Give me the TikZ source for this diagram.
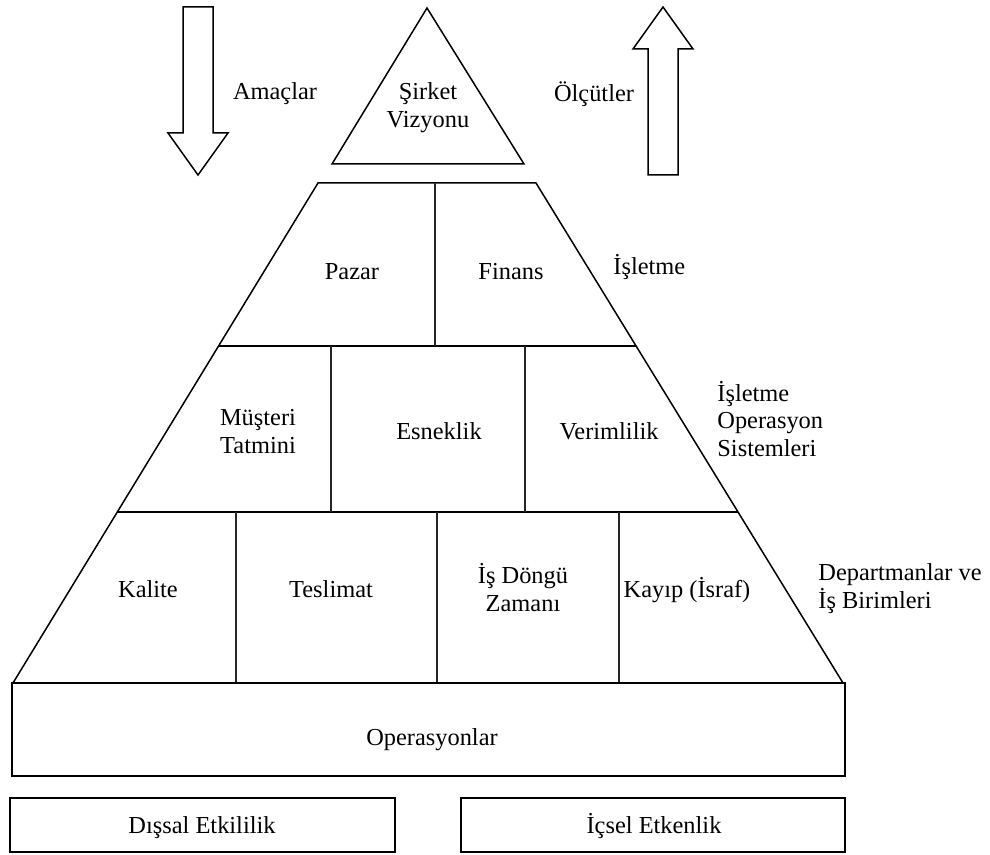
\documentclass[tikz,border=0pt]{standalone}
\usepackage{fontspec}
\setmainfont{Liberation Serif}
\newfontfamily\labelfont{Liberation Serif}
\usetikzlibrary{calc}
\begin{document}
\begin{tikzpicture}[x=0.5pt,y=-0.5pt,
  outline/.style={draw=black,line width=0.75pt,line join=miter},
  divider/.style={draw=black!85,line width=0.55pt},
  boxline/.style={draw=black,line width=1pt},
  lbl/.style={font=\labelfont\fontsize{12.2}{14}\selectfont,inner sep=0pt,anchor=base,align=center},
  side/.style={lbl,align=left,anchor=base west}]
\useasboundingbox (0,0) rectangle (990,855);

% goals arrow (down) and measures arrow (up)
\draw[outline] (183,7) -- (213,7) -- (213,133) -- (228,133) -- (198,175)
  -- (168,133) -- (183,133) -- cycle;
\draw[outline] (663,7) -- (693,49) -- (678,49) -- (678,175) -- (648,175)
  -- (648,49) -- (633,49) -- cycle;

% vision triangle
\draw[outline] (427,8) -- (524,164) -- (332,164) -- cycle;

% pyramid outline
\coordinate (tl) at (318,183);
\coordinate (tr) at (536,183);
\coordinate (bl) at (13,683);
\coordinate (br) at (843,683);
\draw[outline] (tl) -- (tr) -- (br) -- (bl) -- cycle;

% level boundaries
\coordinate (l1) at ($(tl)!0.326!(bl)$);
\coordinate (r1) at ($(tr)!0.326!(br)$);
\coordinate (l2) at ($(tl)!0.658!(bl)$);
\coordinate (r2) at ($(tr)!0.658!(br)$);
\draw[outline] (l1) -- (r1);
\draw[outline] (l2) -- (r2);

% cell dividers
\draw[divider] (435,183) -- (435,346);
\draw[divider] (331,346) -- (331,512);
\draw[divider] (525,346) -- (525,512);
\draw[divider] (236,512) -- (236,683);
\draw[divider] (437,512) -- (437,683);
\draw[divider] (619,512) -- (619,683);

% operations base and effectiveness boxes
\draw[boxline] (12,683) rectangle (845,776);
\draw[boxline] (10,798) rectangle (395,852);
\draw[boxline] (461,798) rectangle (845,852);

% labels (multi-line labels sit on the baseline of their last line)
\node[lbl] (amac) at (275,100) {Amaçlar};
\node[lbl] (olcut) at (594,102) {Ölçütler};
\node[lbl] (vizyon) at (428,128) {Şirket\\Vizyonu};

\node[lbl] (pazar) at (352,280) {Pazar};
\node[lbl] (finans) at (511,280) {Finans};
\node[side] (isletme) at (613,275) {İşletme};

\node[lbl] (musteri) at (258,453) {Müşteri\\Tatmini};
\node[lbl] (esnek) at (439,439) {Esneklik};
\node[lbl] (verim) at (609,439) {Verimlilik};
\node[side] (opsis) at (717,457) {İşletme\\Operasyon\\Sistemleri};

\node[lbl] (kalite) at (148,597) {Kalite};
\node[lbl] (teslim) at (331,597) {Teslimat};
\node[lbl] (dongu) at (523,611) {İş Döngü\\Zamanı};
\node[lbl] (kayip) at (687,597) {Kayıp (İsraf)};
\node[side] (depart) at (818,608) {Departmanlar ve\\İş Birimleri};

\node[lbl] (oper) at (432,745) {Operasyonlar};
\node[lbl] (dis) at (202,833) {Dışsal Etkililik};
\node[lbl] (ic) at (654,833) {İçsel Etkenlik};
\end{tikzpicture}
\end{document}
